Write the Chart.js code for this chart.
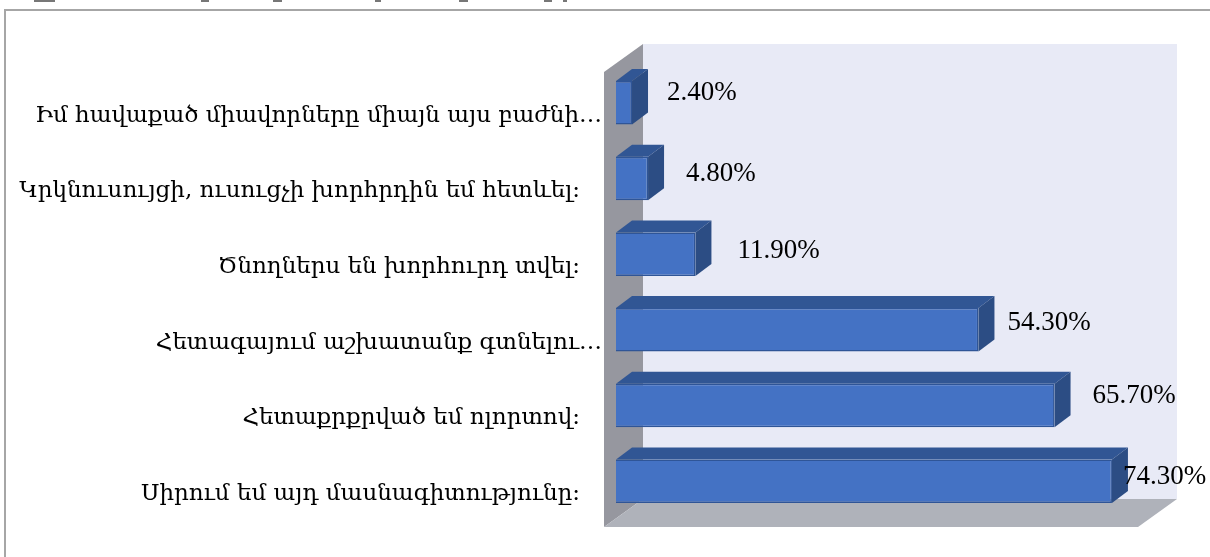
<!DOCTYPE html>
<html>
<head>
<meta charset="utf-8">
<style>
  html, body { margin: 0; padding: 0; background: #fff; overflow: hidden; }
  #frame { position: absolute; left: 4px; top: 9px; width: 1300px; height: 700px; border-top: 2px solid #a6a6a6; border-left: 2px solid #a6a6a6; }
  #wrap { position: absolute; left: 0; top: 0; width: 1210px; height: 557px; }
  /* bottoms of the cropped text line above the frame */
  #cropped {
    position: absolute; left: 0; top: 0; width: 1210px; height: 2px;
    background:
      linear-gradient(#777, #777) 34px 0 / 21px 2px no-repeat,
      linear-gradient(#777, #777) 201px 0 / 8px 2px no-repeat,
      linear-gradient(#777, #777) 273px 0 / 9px 2px no-repeat,
      linear-gradient(#777, #777) 375px 0 / 6px 2px no-repeat,
      linear-gradient(#777, #777) 459px 0 / 9px 2px no-repeat,
      linear-gradient(#777, #777) 544px 0 / 8px 2px no-repeat,
      linear-gradient(#777, #777) 563px 0 / 4px 2px no-repeat;
  }
</style>
</head>
<body>
<div id="frame"></div>
<div id="cropped"></div>
<div id="wrap"><canvas id="chart" width="1210" height="557"></canvas></div>
<script src="https://cdn.jsdelivr.net/npm/chart.js@4"></script>
<script>
const categories = [
    "Իմ հավաքած միավորները միայն այս բաժնի…",
    "Կրկնուսույցի, ուսուցչի խորհրդին եմ հետևել։   ",
    "Ծնողներս են խորհուրդ տվել։   ",
    "Հետագայում աշխատանք գտնելու…",
    "Հետաքրքրված եմ ոլորտով։   ",
    "Սիրում եմ այդ մասնագիտությունը։   "
];
const shares = [2.4, 4.8, 11.9, 54.3, 65.7, 74.3];
const valueLabels = ["2.40%", "4.80%", "11.90%", "54.30%", "65.70%", "74.30%"];

// depth of the bars and of the walls, in pixels
const barDepth = { x: 16, y: 12 };
const wallDepth = { x: 39, y: 28 };
const wallInset = 12;

// where each value label sits relative to the end of its bar
const labelGapX = [35, 38, 42, 29, 38, 11];
const labelGapY = [-10, -5, -3, -7, -10, -4];

function poly(ctx, pts, fill) {
    ctx.beginPath();
    pts.forEach((p, i) => i ? ctx.lineTo(p[0], p[1]) : ctx.moveTo(p[0], p[1]));
    ctx.closePath();
    ctx.fillStyle = fill;
    ctx.fill();
}

// back wall, side wall and floor go behind the bars
const wallsPlugin = {
    id: "walls",
    beforeDatasetsDraw(chart) {
        const { ctx, chartArea: a, scales } = chart;
        const left = scales.x.getPixelForValue(0) - wallInset;
        const right = scales.x.getPixelForValue(80) - wallInset;
        const top = a.top + 7;
        const bottom = a.bottom + 8;
        const dx = wallDepth.x, dy = wallDepth.y;
        ctx.save();
        poly(ctx, [[left + dx, top - dy], [right + dx, top - dy], [right + dx, bottom - dy], [left + dx, bottom - dy]], "#e8eaf6");
        poly(ctx, [[left, top], [left + dx, top - dy], [left + dx, bottom - dy], [left, bottom]], "#96979f");
        poly(ctx, [[left, bottom], [left + dx, bottom - dy], [right + dx, bottom - dy], [right, bottom]], "#afb2ba");
        ctx.restore();
    }
};

// top and side faces of every bar, plus the value label
const barFacesPlugin = {
    id: "barFaces",
    afterDatasetsDraw(chart) {
        const { ctx } = chart;
        const meta = chart.getDatasetMeta(0);
        const dx = barDepth.x, dy = barDepth.y;
        ctx.save();
        meta.data.forEach(bar => {
            const x0 = bar.base, x1 = bar.x;
            const y0 = bar.y - bar.height / 2, y1 = bar.y + bar.height / 2;
            poly(ctx, [[x0, y0], [x0 + dx, y0 - dy], [x1 + dx, y0 - dy], [x1, y0]], "#315694");
            poly(ctx, [[x1, y0], [x1 + dx, y0 - dy], [x1 + dx, y1 - dy], [x1, y1]], "#2c4d84");
        });
        ctx.fillStyle = "#000";
        ctx.font = '27px "Liberation Serif", serif';
        ctx.textAlign = "left";
        ctx.textBaseline = "middle";
        meta.data.forEach((bar, i) => {
            ctx.fillText(valueLabels[i], bar.x + labelGapX[i], bar.y + labelGapY[i]);
        });
        ctx.restore();
    }
};

new Chart(document.getElementById("chart").getContext("2d"), {
    type: "bar",
    data: {
        labels: categories,
        datasets: [{
            data: shares,
            backgroundColor: "#4472c4",
            borderColor: "#2f5597",
            borderWidth: 1.5,
            barPercentage: 0.575,
            categoryPercentage: 1
        }]
    },
    options: {
        indexAxis: "y",
        responsive: false,
        animation: false,
        layout: { padding: { top: 65, right: 60, bottom: 38, left: 0 } },
        plugins: { legend: { display: false }, tooltip: { enabled: false } },
        scales: {
            x: { min: 0, max: 80, display: false },
            y: {
                grid: { display: false },
                border: { display: false },
                ticks: {
                    autoSkip: false,
                    padding: 6,
                    labelOffset: 13,
                    color: "#000",
                    font: { family: '"DejaVu Serif", serif', size: 23 }
                },
                afterFit: s => { s.width = 616; }
            }
        }
    },
    plugins: [wallsPlugin, barFacesPlugin]
});
</script>
</body>
</html>
